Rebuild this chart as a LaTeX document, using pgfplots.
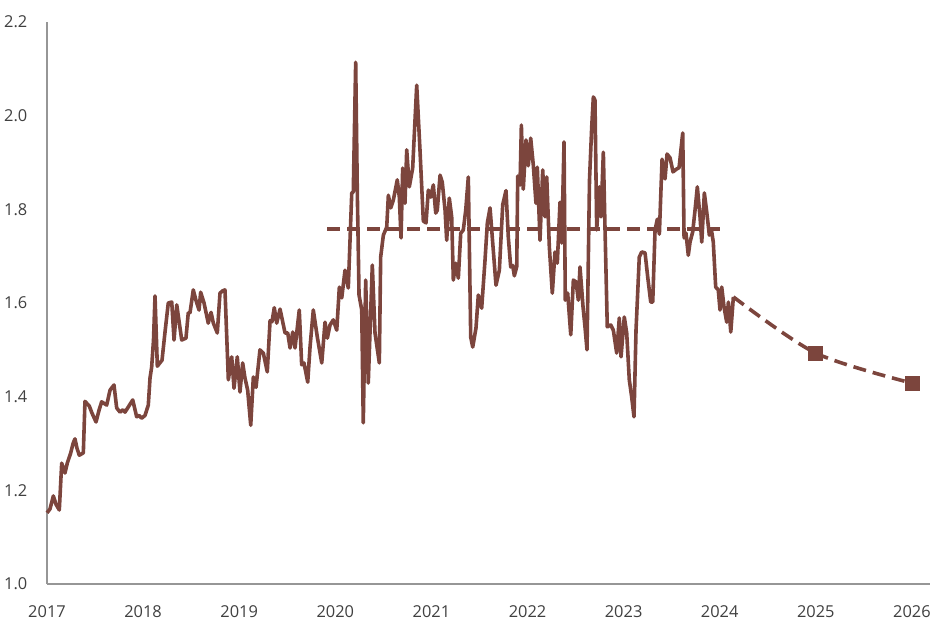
\documentclass[border=0pt]{standalone}
\usepackage{fontspec}
\setmainfont{Open Sans}
\usepackage{pgfplots}
\usepackage{pgfplotstable}
\pgfplotsset{compat=1.18}
\definecolor{brn}{RGB}{124,69,61}
\definecolor{axgray}{RGB}{150,150,150}
\definecolor{lblgray}{RGB}{64,64,64}

\pgfplotstableread{
x y
2017.000 1.152
2017.031 1.160
2017.066 1.188
2017.094 1.170
2017.128 1.158
2017.153 1.258
2017.187 1.237
2017.211 1.258
2017.247 1.280
2017.271 1.300
2017.291 1.310
2017.312 1.290
2017.336 1.275
2017.378 1.280
2017.395 1.390
2017.440 1.380
2017.468 1.365
2017.510 1.346
2017.544 1.373
2017.569 1.389
2017.621 1.382
2017.656 1.414
2017.697 1.425
2017.725 1.376
2017.760 1.367
2017.791 1.372
2017.812 1.367
2017.846 1.378
2017.892 1.393
2017.933 1.357
2017.957 1.360
2017.985 1.354
2018.020 1.360
2018.054 1.382
2018.072 1.440
2018.089 1.463
2018.108 1.520
2018.124 1.615
2018.148 1.465
2018.197 1.478
2018.228 1.538
2018.262 1.600
2018.298 1.602
2018.322 1.521
2018.350 1.596
2018.402 1.521
2018.446 1.525
2018.470 1.579
2018.488 1.579
2018.522 1.628
2018.551 1.605
2018.582 1.585
2018.599 1.623
2018.634 1.600
2018.678 1.557
2018.707 1.580
2018.731 1.557
2018.772 1.536
2018.800 1.621
2018.828 1.626
2018.852 1.628
2018.887 1.436
2018.922 1.485
2018.946 1.418
2018.980 1.485
2019.008 1.410
2019.036 1.472
2019.060 1.440
2019.088 1.414
2019.120 1.339
2019.147 1.442
2019.175 1.420
2019.216 1.500
2019.251 1.493
2019.292 1.453
2019.321 1.562
2019.341 1.560
2019.365 1.590
2019.390 1.557
2019.425 1.587
2019.477 1.536
2019.505 1.536
2019.529 1.504
2019.557 1.538
2019.581 1.504
2019.625 1.585
2019.650 1.468
2019.674 1.472
2019.713 1.431
2019.737 1.506
2019.771 1.585
2019.813 1.527
2019.859 1.472
2019.893 1.559
2019.917 1.525
2019.945 1.553
2019.979 1.564
2020.015 1.542
2020.042 1.634
2020.067 1.611
2020.101 1.670
2020.135 1.632
2020.171 1.835
2020.187 1.837
2020.212 2.114
2020.229 1.835
2020.247 1.617
2020.275 1.585
2020.291 1.344
2020.316 1.649
2020.343 1.429
2020.385 1.681
2020.413 1.536
2020.458 1.472
2020.472 1.698
2020.500 1.745
2020.535 1.762
2020.552 1.830
2020.577 1.803
2020.604 1.820
2020.645 1.863
2020.666 1.826
2020.684 1.739
2020.701 1.888
2020.725 1.813
2020.743 1.927
2020.770 1.848
2020.805 1.888
2020.847 2.065
2020.881 1.927
2020.916 1.775
2020.944 1.771
2020.968 1.841
2020.993 1.826
2021.020 1.852
2021.045 1.792
2021.061 1.798
2021.090 1.873
2021.113 1.858
2021.142 1.798
2021.159 1.734
2021.186 1.824
2021.211 1.784
2021.228 1.649
2021.253 1.685
2021.280 1.653
2021.305 1.749
2021.332 1.756
2021.357 1.798
2021.384 1.869
2021.409 1.527
2021.430 1.506
2021.464 1.547
2021.488 1.617
2021.523 1.589
2021.558 1.692
2021.582 1.771
2021.610 1.803
2021.638 1.728
2021.672 1.638
2021.707 1.670
2021.742 1.810
2021.776 1.840
2021.800 1.741
2021.825 1.677
2021.846 1.680
2021.863 1.658
2021.888 1.678
2021.898 1.871
2021.922 1.852
2021.936 1.980
2021.956 1.843
2021.984 1.948
2022.008 1.893
2022.033 1.952
2022.060 1.895
2022.088 1.813
2022.102 1.890
2022.130 1.734
2022.158 1.884
2022.182 1.784
2022.200 1.869
2022.227 1.720
2022.258 1.621
2022.286 1.709
2022.310 1.685
2022.338 1.815
2022.356 1.728
2022.380 1.944
2022.393 1.606
2022.418 1.621
2022.450 1.532
2022.477 1.649
2022.505 1.645
2022.529 1.606
2022.546 1.677
2022.578 1.591
2022.598 1.549
2022.619 1.500
2022.645 1.863
2022.668 1.976
2022.685 2.040
2022.702 2.033
2022.720 1.756
2022.747 1.848
2022.765 1.784
2022.789 1.922
2022.806 1.762
2022.830 1.549
2022.866 1.553
2022.893 1.542
2022.928 1.493
2022.955 1.568
2022.973 1.485
2023.007 1.570
2023.032 1.536
2023.059 1.436
2023.084 1.399
2023.108 1.357
2023.129 1.542
2023.163 1.698
2023.188 1.709
2023.223 1.707
2023.251 1.655
2023.282 1.602
2023.303 1.602
2023.327 1.756
2023.351 1.779
2023.372 1.747
2023.400 1.907
2023.431 1.865
2023.452 1.918
2023.483 1.910
2023.514 1.880
2023.551 1.886
2023.577 1.889
2023.603 1.940
2023.615 1.963
2023.629 1.739
2023.649 1.749
2023.673 1.702
2023.691 1.730
2023.719 1.752
2023.743 1.798
2023.767 1.848
2023.795 1.784
2023.813 1.730
2023.840 1.835
2023.865 1.794
2023.892 1.745
2023.917 1.752
2023.933 1.730
2023.958 1.634
2023.985 1.628
2024.003 1.585
2024.021 1.634
2024.045 1.591
2024.073 1.559
2024.090 1.602
2024.115 1.538
2024.142 1.613
}\mainseries

\pgfplotstableread{
x y
2019.914 1.758
2024.076 1.758
}\avgline

\pgfplotstableread{
x y
2024.142 1.613
2025.000 1.493
2026.000 1.429
}\forecast

\pgfplotstableread{
x y
2025.000 1.493
2026.000 1.429
}\fmarks

\begin{document}
\begin{tikzpicture}
\path[use as bounding box] (-23.5pt,-22pt) rectangle (446.5pt,292pt);
\begin{axis}[
  at={(0,0)}, anchor=south west,
  scale only axis, width=441.5pt, height=281pt,
  xmin=2017, xmax=2026.188, ymin=1.0, ymax=2.2,
  axis lines*=left,
  axis line style={axgray, line width=0.6pt},
  xtick={2017,2018,2019,2020,2021,2022,2023,2024,2025,2026},
  ytick={1,1.2,1.4,1.6,1.8,2,2.2},
  major tick length=0pt,
  tick label style={font=\fontsize{8.2}{10}\selectfont, text=lblgray},
  /pgf/number format/assume math mode=true,
  /pgf/number format/1000 sep={},
  xticklabel style={yshift=-7.5pt},
  yticklabel style={xshift=-6.3pt, /pgf/number format/fixed, /pgf/number format/fixed zerofill, /pgf/number format/precision=1},
  clip=false,
]
\addplot[brn, line width=1.8pt, line join=round, no marks] table[x=x, y=y] {\mainseries};
\addplot[brn, line width=1.8pt, dash pattern=on 6.5pt off 3.5pt, no marks] table[x=x, y=y] {\avgline};
\addplot[brn, line width=1.8pt, dash pattern=on 6.5pt off 3.5pt, smooth, no marks] table[x=x, y=y] {\forecast};
\addplot[only marks, mark=square*, mark size=3.5pt, mark options={fill=brn, draw=brn, solid}] table[x=x, y=y] {\fmarks};
\end{axis}
\end{tikzpicture}
\end{document}
